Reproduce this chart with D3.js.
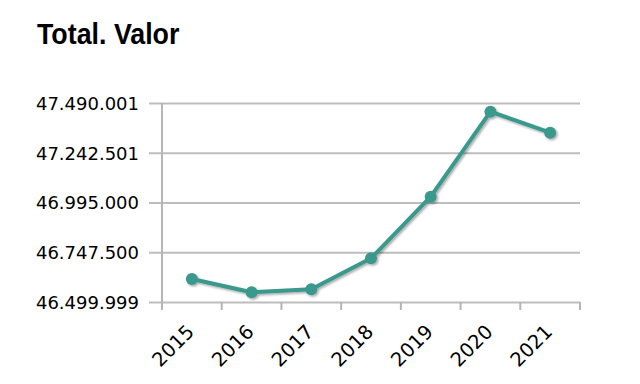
<!DOCTYPE html>
<html><head><meta charset="utf-8">
<script src="https://cdn.jsdelivr.net/npm/d3@7"></script>
<style>body{margin:0;background:#fff}svg{display:block}</style>
</head><body>
<script>
const years = ["2015","2016","2017","2018","2019","2020","2021"];
const values = [46616900, 46550700, 46565700, 46719900, 47026400, 47449200, 47344800];
const yTicks = [46499999, 46747500, 46995000, 47242501, 47490001];
const yTickLabels = ["46.499.999","46.747.500","46.995.000","47.242.501","47.490.001"];
const title = "Total. Valor";

const W = 640, H = 384;
const svg = d3.select("body").append("svg").attr("width", W).attr("height", H);
const defs = svg.append("defs");
const f = defs.append("filter").attr("id","sh").attr("x","-20%").attr("y","-20%").attr("width","140%").attr("height","140%");
f.append("feDropShadow").attr("dx",1.5).attr("dy",1.5).attr("stdDeviation",1.2).attr("flood-color","#000").attr("flood-opacity",0.35);

const x = d3.scaleBand().domain(years).range([162, 580]);
const y = d3.scaleLinear().domain([yTicks[0], yTicks[yTicks.length-1]]).range([302.5, 103.5]);

svg.append("text").text(title).attr("x", 0).attr("y", 0)
  .attr("transform","translate(37,44) scale(1,1.1)")
  .attr("font-family","Liberation Sans, Arial, sans-serif").attr("font-weight","bold")
  .attr("font-size", 26.8).attr("fill","#000");

// grid
svg.append("g").selectAll("line").data(yTicks).join("line")
  .attr("x1",149).attr("x2",580).attr("y1",d=>y(d)).attr("y2",d=>y(d))
  .attr("stroke","#bdbdbd").attr("stroke-width",2);
svg.append("g").selectAll("text").data(yTicks).join("text")
  .attr("x",139).attr("y",d=>y(d)).attr("dy","0.36em").attr("text-anchor","end")
  .attr("font-family","DejaVu Sans, Verdana, sans-serif").attr("font-size",18).attr("fill","#000")
  .text((d,i)=>yTickLabels[i]);
// y axis line
svg.append("line").attr("x1",162).attr("x2",162).attr("y1",103).attr("y2",310)
  .attr("stroke","#b5b5b5").attr("stroke-width",2);
// x ticks
const bounds = years.map(d=>x(d)).concat([x.range()[1]]);
svg.append("g").selectAll("line").data(bounds).join("line")
  .attr("x1",d=>d).attr("x2",d=>d).attr("y1",302).attr("y2",310)
  .attr("stroke","#b5b5b5").attr("stroke-width",2);
svg.append("g").selectAll("text").data(years).join("text")
  .attr("transform",d=>`translate(${x(d)+x.bandwidth()/2+3.5},333) rotate(-45)`)
  .attr("text-anchor","end")
  .attr("font-family","DejaVu Sans, Verdana, sans-serif").attr("font-size",19.5).attr("fill","#000")
  .text(d=>d);

const data = years.map((d,i)=>({year:d, value:values[i]}));
const line = d3.line().x(d=>x(d.year)+x.bandwidth()/2).y(d=>y(d.value));
const g = svg.append("g").attr("filter","url(#sh)");
g.append("path").datum(data).attr("d",line).attr("fill","none")
  .attr("stroke","#3a988c").attr("stroke-width",4).attr("stroke-linejoin","round");
g.selectAll("circle").data(data).join("circle")
  .attr("cx",d=>x(d.year)+x.bandwidth()/2).attr("cy",d=>y(d.value)).attr("r",6)
  .attr("fill","#3a988c");
</script>
</body></html>
